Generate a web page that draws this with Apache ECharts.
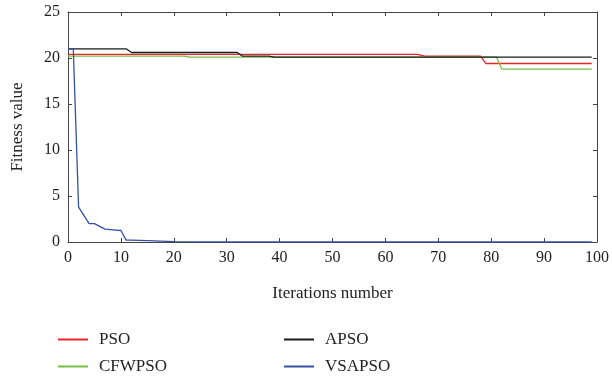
<!DOCTYPE html>
<html lang="en">
<head>
    <meta charset="UTF-8">
    <title>Fitness value</title>
    <script src="https://cdn.jsdelivr.net/npm/echarts@6/dist/echarts.min.js"></script>
    <style>
        body { margin: 0; background: #fff; }
    </style>
</head>
<body>
<div id="main" style="width: 612px;height:381px;"></div>
<script type="text/javascript">
    // breakpoints [iteration, fitness]
    var psoData = [[0, 20.4], [66, 20.4], [67.5, 20.2], [78, 20.2], [79, 19.4], [99, 19.4]];
    var cfwpsoData = [[0, 20.2], [22, 20.2], [23, 20.1], [81, 20.1], [82, 18.8], [99, 18.8]];
    var apsoData = [[0, 21.0], [11, 21.0], [12, 20.6], [32, 20.6], [33, 20.2], [38, 20.2], [39, 20.1], [99, 20.1]];
    var vsapsoData = [[0, 21.0], [1, 21.0], [2, 3.8], [3, 2.9], [4, 2.0], [5, 2.0], [6, 1.7], [7, 1.4],
        [8, 1.35], [9, 1.3], [10, 1.25], [11, 0.2], [12, 0.2], [15, 0.15], [20, 0.05], [25, 0.02], [30, 0], [99, 0]];

    var names = ['PSO', 'CFWPSO', 'APSO', 'VSAPSO'];
    var colors = ['#e8262a', '#74c044', '#1a1a1a', '#3450a8'];
    var font = 'Liberation Serif';

    var myChart = echarts.init(document.getElementById('main'));

    var axisLine = { show: true, onZero: false, lineStyle: { color: '#444', width: 1 } };
    var tick = { show: true, inside: true, length: 4, lineStyle: { color: '#444' } };
    var legendText = { fontFamily: font, fontSize: 17, lineHeight: 19, color: '#222', padding: [0, 0, 0, 6] };

    function mkSeries(i, data) {
        return {
            name: names[i],
            type: 'line',
            data: data,
            symbol: 'none',
            color: colors[i],
            lineStyle: { width: 1.3, color: colors[i] },
            animation: false
        };
    }

    myChart.setOption({
        backgroundColor: '#fff',
        animation: false,
        grid: { left: 68, right: 14, top: 12, bottom: 139 },
        legend: [{
            orient: 'vertical', left: 58, top: 330, padding: 0,
            itemWidth: 30, itemHeight: 2, itemGap: 8, icon: 'rect',
            data: ['PSO', 'CFWPSO'], textStyle: legendText
        }, {
            orient: 'vertical', left: 284, top: 330, padding: 0,
            itemWidth: 30, itemHeight: 2, itemGap: 8, icon: 'rect',
            data: ['APSO', 'VSAPSO'], textStyle: legendText
        }],
        xAxis: [{
            type: 'value', min: 0, max: 100, interval: 10, position: 'bottom',
            name: 'Iterations number', nameLocation: 'middle', nameGap: 43,
            nameTextStyle: { fontFamily: font, fontSize: 17, color: '#222' },
            axisLine: axisLine, axisTick: tick, splitLine: { show: false },
            axisLabel: { fontFamily: font, fontSize: 16, color: '#222', margin: 8 }
        }, {
            type: 'value', min: 0, max: 100, interval: 10, position: 'top',
            axisLine: axisLine, axisTick: tick, splitLine: { show: false },
            axisLabel: { show: false }
        }],
        yAxis: [{
            type: 'value', min: 0, max: 25, interval: 5, position: 'left',
            name: 'Fitness value', nameLocation: 'middle', nameGap: 42,
            nameTextStyle: { fontFamily: font, fontSize: 17, color: '#222' },
            axisLine: axisLine, axisTick: tick, splitLine: { show: false },
            axisLabel: { fontFamily: font, fontSize: 16, color: '#222', margin: 8 }
        }, {
            type: 'value', min: 0, max: 25, interval: 5, position: 'right',
            axisLine: axisLine, axisTick: tick, splitLine: { show: false },
            axisLabel: { show: false }
        }],
        series: [
            mkSeries(0, psoData),
            mkSeries(1, cfwpsoData),
            mkSeries(2, apsoData),
            mkSeries(3, vsapsoData)
        ]
    });
</script>
</body>
</html>
